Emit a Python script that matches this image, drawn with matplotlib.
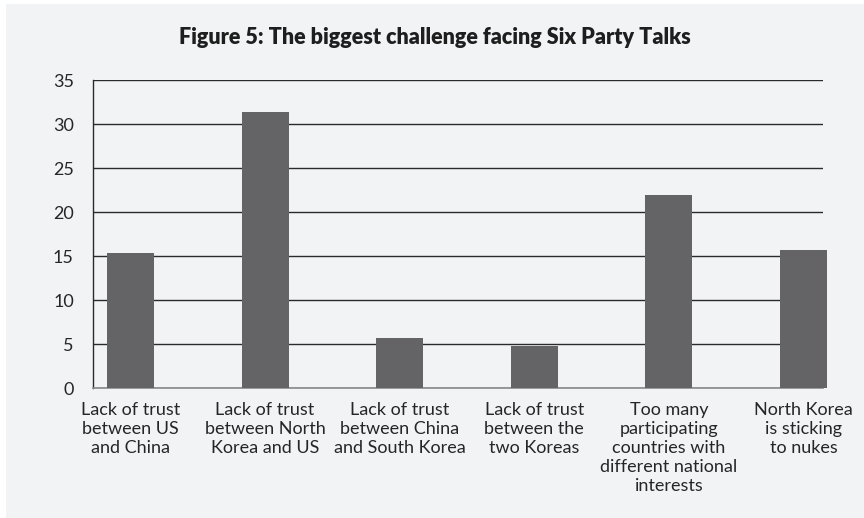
import matplotlib
matplotlib.use("Agg")
import matplotlib.pyplot as plt
from matplotlib.patches import Rectangle

categories = [
    "Lack of trust\nbetween US\nand China",
    "Lack of trust\nbetween North\nKorea and US",
    "Lack of trust\nbetween China\nand South Korea",
    "Lack of trust\nbetween the\ntwo Koreas",
    "Too many\nparticipating\ncountries with\ndifferent national\ninterests",
    "North Korea\nis sticking\nto nukes",
]
values = [15.4, 31.4, 5.7, 4.8, 22.0, 15.7]
yticks = [0, 5, 10, 15, 20, 25, 30, 35]
title = "Figure 5: The biggest challenge facing Six Party Talks"

plt.rcParams['font.family'] = ['Lato', 'DejaVu Sans']
bg = '#f2f3f5'
fig = plt.figure(figsize=(8.64, 5.18), dpi=100)
fig.patch.set_facecolor('white')
fig.patches.append(Rectangle((6/864, 0), 1, 1 - 4/518, transform=fig.transFigure,
                             facecolor=bg, edgecolor='none', zorder=-10))

ax = fig.add_axes([93.3/864, 1 - 388.3/518, (823 - 93.3)/864, (388.3 - 80.3)/518])
ax.set_facecolor(bg)
ax.patch.set_alpha(0)

x = list(range(len(categories)))
bars = ax.bar(x, values, width=0.35, color='#646466', zorder=3)
for b in bars:
    b.set_clip_on(False)

ax.set_xlim(-0.2764, 5.145)
ax.set_ylim(0, 35)
ax.set_yticks(yticks)
ax.set_yticklabels([str(t) for t in yticks], fontsize=13, color='#262626')
ax.set_xticks(x)
ax.set_xticklabels(categories, fontsize=13, color='#262626', linespacing=1.22)
ax.tick_params(axis='both', length=0)
ax.tick_params(axis='y', pad=14)
ax.tick_params(axis='x', pad=10)
for lab in ax.get_xticklabels():
    lab.set_ha('center')
    lab.set_multialignment('center')

ax.yaxis.grid(True, color='#2a2a2a', linewidth=1.0, zorder=1)
ax.set_axisbelow(True)
for s in ['top', 'right']:
    ax.spines[s].set_visible(False)
ax.spines['left'].set_color('#2a2a2a')
ax.spines['left'].set_linewidth(1.0)
ax.spines['bottom'].set_color('#8a8a8a')
ax.spines['bottom'].set_linewidth(1.2)

fig.text(435/864, 1 - 38/518, title, ha='center', va='center',
         fontsize=15.5, fontweight='heavy', color='#1e1e1e')

fig.savefig('out.png', dpi=100, facecolor=fig.get_facecolor())
